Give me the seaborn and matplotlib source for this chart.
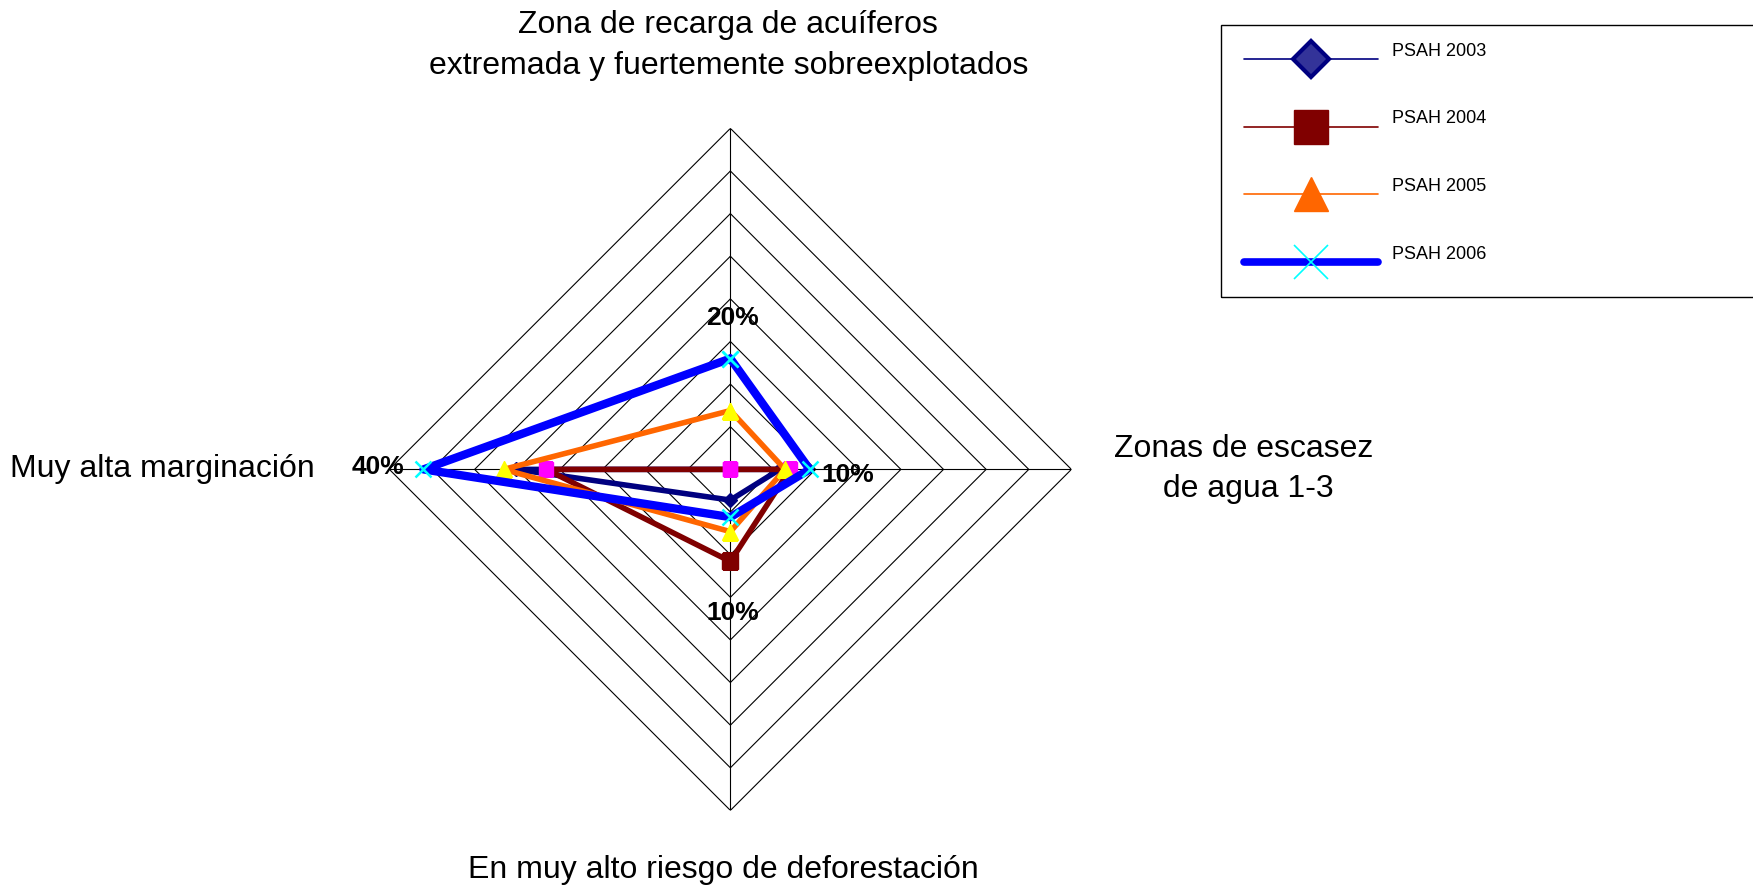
import numpy as np
import pandas as pd
import matplotlib
matplotlib.use("Agg")
import matplotlib.pyplot as plt
from matplotlib.lines import Line2D
from matplotlib.patches import Rectangle
from matplotlib.legend_handler import HandlerLine2D
import seaborn as sns

sns.set_theme(style="white")
plt.rcParams["font.family"] = ["Liberation Sans", "DejaVu Sans"]
plt.rcParams["text.color"] = "black"

# ----------------------------------------------------------------------
# Data (percent of area per category)
# ----------------------------------------------------------------------
categories = [
    "Zona de recarga de acuíferos\nextremada y fuertemente sobreexplotados",
    "Zonas de escasez\n de agua 1-3",
    "En muy alto riesgo de deforestación",
    "Muy alta marginación",
]
series_names = ["PSAH 2003", "PSAH 2004", "PSAH 2005", "PSAH 2006"]
psah_2003 = [0.0, 5.8, 3.6, 25.1]
psah_2004 = [0.0, 7.0, 10.8, 21.6]
psah_2005 = [6.9, 6.4, 7.3, 26.6]
psah_2006 = [13.0, 9.3, 5.6, 36.0]
ring_levels = [5, 10, 15, 20, 25, 30, 35, 40]
pct_labels = ["20%", "10%", "10%", "40%"]

# style per series: line colour, width, marker, marker face, marker size
styles = {
    "PSAH 2003": dict(color="#000080", lw=4.0, marker="D", mfc="#000080", mec="#000080", ms=7),
    "PSAH 2004": dict(color="#800000", lw=4.0, marker="s", mfc="#FF00FF", mec="#FF00FF", ms=10),
    "PSAH 2005": dict(color="#FF6600", lw=4.0, marker="^", mfc="#FFFF00", mec="#FFFF00", ms=11),
    "PSAH 2006": dict(color="#0000FF", lw=6.0, marker="x", mfc="#00FFFF", mec="#00FFFF", ms=11),
}

# ----------------------------------------------------------------------
# Figure
# ----------------------------------------------------------------------
fig = plt.figure(figsize=(17.53, 8.89), dpi=100)
ax = fig.add_axes([0.2221, 0.0884, 0.3891, 0.7672], projection="polar")
ax.set_theta_zero_location("N")
ax.set_theta_direction(-1)

angles = np.arange(len(categories)) * 2 * np.pi / len(categories)
closed = np.append(angles, 2 * np.pi)

# diamond grid + spokes
for r in ring_levels:
    ax.plot(closed, [r] * len(closed), color="black", lw=0.8, zorder=1)
for a in angles:
    ax.plot([a, a], [0, ring_levels[-1]], color="black", lw=0.8, zorder=1)

values = [psah_2003, psah_2004, psah_2005, psah_2006]
for i, (name, vals) in enumerate(zip(series_names, values)):
    st = styles[name]
    df = pd.DataFrame({"theta": closed, "r": list(vals) + [vals[0]]})
    sns.lineplot(data=df, x="theta", y="r", ax=ax, sort=False,
                 color=st["color"], lw=st["lw"], marker=st["marker"],
                 markerfacecolor=st["mfc"], markeredgecolor=st["mec"],
                 markersize=st["ms"], markeredgewidth=1.8 if st["marker"] == "x" else 1,
                 zorder=3 + i)
    if name == "PSAH 2004":
        # the deforestation point of 2004 keeps the series' own dark red marker
        ax.plot(angles[2], vals[2], ls="none", marker="s", ms=12,
                mfc="#800000", mec="#800000", zorder=3 + i + 0.5)

ax.set_ylim(0, ring_levels[-1])
ax.grid(False)
ax.spines["polar"].set_visible(False)
ax.set_xticks([])
ax.set_yticks([])
ax.set_xlabel("")
ax.set_ylabel("")
ax.patch.set_alpha(0)

# percent annotations (axes fraction positions)
pct_pos = [(0.503, 0.722), (0.672, 0.492), (0.503, 0.290), (-0.016, 0.503)]
for txt, (px, py) in zip(pct_labels, pct_pos):
    ax.text(px, py, txt, transform=ax.transAxes, ha="center", va="center",
            fontsize=19, fontweight="bold", color="black", zorder=10)

# category labels
fig.text(0.4155, 0.949, categories[0], ha="center", va="center", fontsize=23, linespacing=1.45)
fig.text(0.7095, 0.4725, categories[1], ha="center", va="center", fontsize=23, linespacing=1.45)
fig.text(0.4125, 0.0214, categories[2], ha="center", va="center", fontsize=23)
fig.text(0.0925, 0.4724, categories[3], ha="center", va="center", fontsize=23)


# legend: sample lines sit a little below their label
class LowLine(HandlerLine2D):
    def create_artists(self, legend, orig_handle, xdescent, ydescent,
                       width, height, fontsize, trans):
        arts = super().create_artists(legend, orig_handle, xdescent, ydescent,
                                      width, height, fontsize, trans)
        for art in arts:
            art.set_ydata(np.asarray(art.get_ydata()) - 9.5)
        return arts


legend_styles = {
    "PSAH 2003": dict(color="#000080", lw=1.2, marker="D", mfc="#333399", mec="#000080", ms=18, mew=3),
    "PSAH 2004": dict(color="#800000", lw=1.2, marker="s", mfc="#800000", mec="#800000", ms=24, mew=1),
    "PSAH 2005": dict(color="#FF6600", lw=1.2, marker="^", mfc="#FF6600", mec="#FF6600", ms=24, mew=1),
    "PSAH 2006": dict(color="#0000FF", lw=5.5, marker="x", mfc="#00FFFF", mec="#00FFFF", ms=24, mew=1.2),
}
handles = [Line2D([], [], color=s["color"], lw=s["lw"], marker=s["marker"],
                  markerfacecolor=s["mfc"], markeredgecolor=s["mec"],
                  markersize=s["ms"], markeredgewidth=s["mew"])
           for s in legend_styles.values()]
fig.legend(handles, series_names, loc="upper left",
           bbox_to_anchor=(1244 / 1753, 1 - 36 / 889), frameon=False,
           fontsize=13, handlelength=7.4, handleheight=2.0, handletextpad=0.8,
           labelspacing=2.2, borderpad=0, borderaxespad=0,
           handler_map={Line2D: LowLine()})
fig.patches.append(Rectangle((1221 / 1753, 1 - 297 / 889), 0.4, 272 / 889,
                             transform=fig.transFigure, fill=False,
                             edgecolor="black", lw=1))

fig.savefig("out.png", dpi=100)
